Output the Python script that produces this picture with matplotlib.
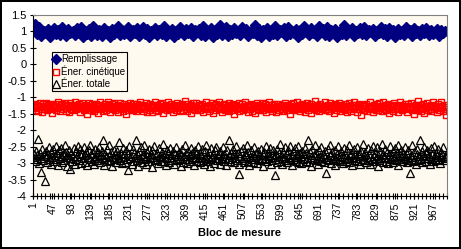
import matplotlib
matplotlib.use("Agg")
import matplotlib.pyplot as plt
import numpy as np

plt.rcParams['font.family'] = ['Liberation Sans', 'DejaVu Sans']

# Remplissage read every 5th block (1, 6, ... 996), the two energies every 2nd block (1, 3, ... 999)
blocs_5 = np.arange(1, 1000, 5)
blocs_2 = np.arange(1, 1000, 2)

remplissage = [
    1.05, 1.22, 0.93, 1.12, 0.86, 1.02, 0.95, 1.08, 0.84, 0.99, 1.10, 0.91, 1.03, 0.88, 1.14, 0.97, 0.85, 1.06, 0.94, 1.01,
    0.89, 1.09, 0.96, 1.13, 0.83, 1.00, 0.92, 1.07, 0.87, 1.15, 0.98, 0.90, 1.04, 0.86, 1.11, 0.95, 1.02, 0.84, 1.08, 0.93,
    1.00, 1.16, 0.88, 1.05, 0.91, 0.97, 1.12, 0.85, 1.03, 0.94, 1.09, 0.87, 0.99, 1.14, 0.92, 1.06, 0.84, 1.01, 0.96, 1.10,
    0.89, 1.04, 0.93, 1.17, 0.86, 1.00, 0.95, 1.08, 0.83, 1.02, 0.91, 1.13, 0.97, 0.88, 1.06, 0.94, 1.11, 0.85, 1.03, 0.99,
    1.07, 0.90, 1.15, 0.87, 1.01, 0.96, 1.09, 0.84, 1.05, 0.93, 1.18, 0.89, 0.98, 1.12, 0.86, 1.04, 0.92, 1.10, 0.95, 1.00,
    0.88, 1.14, 0.97, 1.06, 0.85, 1.02, 0.94, 1.19, 0.90, 1.08, 0.83, 1.03, 0.96, 1.11, 0.87, 1.00, 0.93, 1.16, 0.89, 1.05,
    0.98, 1.09, 0.86, 1.13, 0.92, 1.01, 0.95, 1.07, 0.84, 1.04, 0.91, 1.17, 0.97, 0.88, 1.10, 0.94, 1.02, 0.85, 1.15, 0.99,
    1.06, 0.90, 1.12, 0.87, 1.03, 0.96, 1.08, 0.83, 1.00, 0.93, 1.20, 0.89, 1.05, 0.97, 1.11, 0.86, 1.02, 0.94, 1.09, 0.91,
    1.14, 0.88, 1.04, 0.98, 1.07, 0.85, 1.01, 0.95, 1.13, 0.92, 1.06, 0.87, 1.10, 0.96, 1.03, 0.84, 1.08, 0.93, 1.00, 0.89,
    1.12, 0.97, 1.05, 0.86, 1.09, 0.94, 1.02, 0.90, 1.06, 0.95, 1.11, 0.88, 1.04, 0.92, 0.99, 1.07, 0.87, 1.03, 0.96, 1.00,
]

cinetique = [
    -1.26, -1.33, -1.21, -1.38, -1.29, -1.24, -1.42, -1.31, -1.19, -1.35, -1.27, -1.45, -1.22, -1.30, -1.36, -1.17, -1.28, -1.40, -1.25, -1.33, -1.20, -1.37, -1.30, -1.48, -1.23,
    -1.32, -1.27, -1.39, -1.21, -1.34, -1.15, -1.29, -1.43, -1.25, -1.31, -1.22, -1.36, -1.28, -1.19, -1.41, -1.26, -1.33, -1.24, -1.46, -1.30, -1.18, -1.35, -1.27, -1.39, -1.23,
    -1.30, -1.14, -1.37, -1.25, -1.32, -1.21, -1.44, -1.28, -1.34, -1.19, -1.29, -1.40, -1.23, -1.36, -1.26, -1.50, -1.31, -1.17, -1.33, -1.27, -1.38, -1.22, -1.30, -1.42, -1.25,
    -1.35, -1.20, -1.28, -1.47, -1.24, -1.32, -1.16, -1.37, -1.29, -1.41, -1.26, -1.33, -1.21, -1.39, -1.30, -1.13, -1.34, -1.25, -1.44, -1.28, -1.22, -1.36, -1.31, -1.18, -1.40,
    -1.27, -1.33, -1.23, -1.45, -1.30, -1.19, -1.36, -1.26, -1.42, -1.29, -1.21, -1.34, -1.52, -1.28, -1.24, -1.38, -1.31, -1.17, -1.35, -1.27, -1.40, -1.22, -1.32, -1.26, -1.43,
    -1.20, -1.30, -1.37, -1.25, -1.14, -1.33, -1.28, -1.41, -1.23, -1.35, -1.29, -1.18, -1.46, -1.31, -1.26, -1.38, -1.21, -1.34, -1.27, -1.44, -1.24, -1.32, -1.16, -1.39, -1.30,
    -1.25, -1.42, -1.28, -1.22, -1.36, -1.31, -1.19, -1.48, -1.27, -1.33, -1.24, -1.40, -1.29, -1.15, -1.35, -1.26, -1.37, -1.21, -1.32, -1.45, -1.28, -1.23, -1.39, -1.30, -1.18,
    -1.34, -1.27, -1.43, -1.24, -1.31, -1.20, -1.38, -1.29, -1.12, -1.36, -1.26, -1.41, -1.22, -1.33, -1.28, -1.49, -1.25, -1.35, -1.19, -1.30, -1.40, -1.27, -1.17, -1.37, -1.32,
    -1.23, -1.39, -1.28, -1.34, -1.21, -1.44, -1.30, -1.26, -1.36, -1.16, -1.32, -1.27, -1.42, -1.24, -1.35, -1.29, -1.19, -1.47, -1.31, -1.25, -1.38, -1.22, -1.33, -1.28, -1.14,
    -1.37, -1.26, -1.31, -1.45, -1.23, -1.34, -1.20, -1.40, -1.29, -1.35, -1.25, -1.18, -1.43, -1.30, -1.27, -1.38, -1.22, -1.33, -1.51, -1.28, -1.24, -1.36, -1.31, -1.17, -1.41,
    -1.29, -1.34, -1.21, -1.39, -1.26, -1.32, -1.15, -1.37, -1.28, -1.44, -1.23, -1.30, -1.35, -1.20, -1.42, -1.27, -1.33, -1.25, -1.48, -1.31, -1.19, -1.36, -1.28, -1.40, -1.24,
    -1.32, -1.18, -1.38, -1.27, -1.34, -1.22, -1.45, -1.30, -1.25, -1.37, -1.13, -1.33, -1.29, -1.41, -1.24, -1.36, -1.21, -1.31, -1.46, -1.28, -1.34, -1.20, -1.39, -1.26, -1.30,
    -1.35, -1.23, -1.42, -1.29, -1.17, -1.33, -1.27, -1.38, -1.25, -1.31, -1.50, -1.22, -1.36, -1.28, -1.19, -1.40, -1.30, -1.26, -1.34, -1.15, -1.37, -1.24, -1.43, -1.29, -1.32,
    -1.21, -1.36, -1.28, -1.44, -1.25, -1.31, -1.18, -1.39, -1.27, -1.33, -1.22, -1.47, -1.30, -1.26, -1.35, -1.12, -1.32, -1.38, -1.24, -1.29, -1.41, -1.20, -1.34, -1.27, -1.37,
    -1.26, -1.30, -1.16, -1.40, -1.28, -1.35, -1.23, -1.43, -1.31, -1.19, -1.36, -1.27, -1.33, -1.49, -1.25, -1.21, -1.38, -1.29, -1.34, -1.17, -1.42, -1.28, -1.24, -1.37, -1.30,
    -1.33, -1.22, -1.39, -1.26, -1.45, -1.31, -1.18, -1.35, -1.28, -1.41, -1.24, -1.32, -1.14, -1.37, -1.29, -1.25, -1.44, -1.30, -1.21, -1.36, -1.27, -1.53, -1.33, -1.23, -1.38,
    -1.28, -1.34, -1.20, -1.42, -1.26, -1.31, -1.37, -1.16, -1.33, -1.29, -1.46, -1.24, -1.35, -1.27, -1.40, -1.22, -1.30, -1.38, -1.19, -1.34, -1.26, -1.43, -1.31, -1.13, -1.36,
    -1.25, -1.39, -1.29, -1.33, -1.21, -1.48, -1.27, -1.35, -1.23, -1.30, -1.41, -1.18, -1.36, -1.28, -1.32, -1.45, -1.24, -1.37, -1.15, -1.31, -1.26, -1.40, -1.29, -1.34, -1.20,
    -1.37, -1.27, -1.44, -1.22, -1.33, -1.30, -1.17, -1.39, -1.26, -1.35, -1.52, -1.28, -1.23, -1.38, -1.31, -1.12, -1.34, -1.25, -1.42, -1.29, -1.36, -1.21, -1.47, -1.30, -1.27,
    -1.32, -1.19, -1.40, -1.28, -1.35, -1.24, -1.43, -1.31, -1.16, -1.37, -1.26, -1.33, -1.29, -1.46, -1.22, -1.38, -1.30, -1.14, -1.34, -1.27, -1.41, -1.25, -1.36, -1.55, -1.31,
]

totale = [
    -2.82, -2.71, -2.95, -2.64, -2.88, -2.77, -2.28, -3.01, -2.69, -3.28, -2.85, -2.58, -2.92, -2.74, -3.55, -2.80, -2.62, -2.97, -2.73, -2.51, -2.89, -3.04, -2.67, -2.83, -2.56,
    -2.94, -2.76, -2.48, -2.87, -2.70, -3.06, -2.61, -2.84, -2.79, -2.53, -2.98, -2.72, -2.90, -2.45, -2.81, -2.66, -3.09, -2.75, -2.59, -3.18, -2.86, -2.68, -2.93, -2.78, -2.55,
    -2.88, -3.02, -2.63, -2.80, -2.47, -2.91, -2.74, -2.57, -2.99, -2.69, -2.84, -2.52, -2.96, -2.77, -2.65, -3.07, -2.82, -2.60, -2.89, -2.44, -2.73, -2.95, -2.70, -2.86, -3.03,
    -2.58, -2.79, -2.92, -2.67, -2.85, -2.50, -2.97, -2.75, -2.62, -2.30, -2.88, -3.05, -2.71, -2.83, -2.56, -2.94, -2.78, -2.46, -2.90, -2.66, -3.10, -2.81, -2.59, -2.87, -2.73,
    -2.96, -2.64, -2.85, -2.77, -2.35, -2.92, -2.69, -3.01, -2.54, -2.82, -2.74, -2.98, -2.61, -2.88, -3.20, -2.72, -2.49, -2.86, -2.79, -3.04, -2.57, -2.93, -2.68, -2.83, -2.29,
    -2.90, -2.75, -3.08, -2.63, -2.84, -2.52, -2.97, -2.71, -2.80, -2.45, -2.89, -3.02, -2.66, -2.78, -2.94, -2.58, -2.86, -2.73, -3.11, -2.61, -2.83, -2.48, -2.91, -2.76, -2.69,
    -2.87, -3.00, -2.55, -2.79, -2.93, -2.67, -2.82, -2.43, -2.95, -2.74, -3.06, -2.60, -2.85, -2.70, -2.98, -2.53, -2.81, -2.77, -2.90, -2.64, -3.03, -2.72, -2.50, -2.88, -2.78,
    -2.92, -2.65, -2.84, -3.09, -2.71, -2.57, -2.96, -2.80, -2.46, -2.87, -2.74, -3.01, -2.62, -2.89, -2.76, -2.54, -2.93, -2.68, -2.83, -3.05, -2.59, -2.86, -2.72, -2.95, -2.49,
    -2.81, -2.69, -2.97, -2.75, -2.58, -2.90, -3.04, -2.63, -2.85, -2.44, -2.94, -2.78, -2.66, -2.88, -3.08, -2.55, -2.82, -2.73, -2.99, -2.61, -2.86, -2.51, -2.92, -2.77, -2.70,
    -3.02, -2.64, -2.87, -2.79, -2.52, -2.95, -2.72, -2.84, -3.07, -2.60, -2.89, -2.76, -2.31, -2.93, -2.68, -2.81, -2.56, -2.98, -2.74, -2.86, -2.47, -2.91, -2.70, -3.03, -3.32,
    -2.78, -2.62, -2.90, -2.53, -2.85, -2.97, -2.71, -2.80, -2.45, -2.94, -2.67, -3.05, -2.83, -2.59, -2.88, -2.75, -2.96, -2.50, -2.82, -2.69, -3.00, -2.63, -2.87, -2.77, -2.92,
    -2.57, -2.84, -2.73, -3.09, -2.66, -2.89, -2.48, -2.95, -2.80, -2.70, -2.86, -2.54, -3.02, -2.76, -2.91, -2.61, -2.83, -3.36, -2.74, -2.97, -2.58, -2.88, -2.68, -2.42, -2.93,
    -2.79, -3.04, -2.65, -2.85, -2.52, -2.92, -2.72, -2.98, -2.60, -2.81, -2.47, -2.90, -2.77, -3.06, -2.64, -2.87, -2.55, -2.94, -2.71, -2.83, -2.49, -2.96, -2.68, -2.80, -3.01,
    -2.62, -2.89, -2.74, -2.53, -2.93, -2.70, -2.84, -2.29, -2.97, -2.66, -2.82, -3.08, -2.58, -2.88, -2.76, -2.45, -2.91, -2.69, -2.85, -3.03, -2.61, -2.79, -2.94, -2.51, -2.86,
    -2.73, -2.96, -2.63, -2.81, -3.30, -2.88, -2.56, -2.92, -2.75, -2.44, -2.99, -2.67, -2.84, -2.78, -3.05, -2.59, -2.90, -2.71, -2.48, -2.87, -2.80, -2.95, -2.64, -2.83, -3.00,
    -2.54, -2.89, -2.72, -2.93, -2.61, -2.85, -2.46, -2.97, -2.76, -2.68, -3.07, -2.82, -2.57, -2.91, -2.74, -2.86, -2.50, -2.95, -2.70, -2.80, -3.02, -2.63, -2.88, -2.43, -2.92,
    -2.77, -2.65, -2.98, -2.83, -2.55, -2.90, -2.73, -3.04, -2.60, -2.87, -2.47, -2.94, -2.79, -2.69, -2.85, -2.52, -3.09, -2.75, -2.91, -2.62, -2.84, -2.41, -2.96, -2.72, -2.81,
    -2.58, -2.93, -2.67, -2.86, -3.01, -2.74, -2.49, -2.89, -2.78, -2.63, -2.97, -2.82, -2.54, -2.91, -2.70, -3.06, -2.45, -2.87, -2.76, -2.60, -2.94, -2.80, -2.68, -2.88, -2.51,
    -2.85, -2.97, -2.71, -2.59, -2.90, -3.31, -2.77, -2.83, -2.46, -2.93, -2.66, -2.87, -3.03, -2.73, -2.56, -2.92, -2.79, -2.30, -2.88, -2.64, -2.98, -2.75, -2.50, -2.86, -2.70,
    -2.94, -2.61, -2.84, -2.78, -3.02, -2.55, -2.89, -2.72, -2.95, -2.47, -2.81, -2.68, -2.91, -2.76, -2.58, -2.87, -2.99, -2.65, -2.83, -2.73, -2.52, -2.90, -2.79, -2.86, -2.80,
]

x_labels = np.arange(1, 1001, 46)   # 1, 47, 93, ... 967
y_ticks = np.arange(-4, 1.51, 0.5)

fig = plt.figure(figsize=(4.61, 2.49), dpi=100, facecolor="white")
fig.patch.set_edgecolor("black")
fig.patch.set_linewidth(1.5)
ax = fig.add_axes([0.0716, 0.213, 0.898, 0.727])
ax.set_facecolor("#FFFAEF")

ax.plot(blocs_5, remplissage, linestyle="none", marker="D", ms=4.8, color="#000080",
        mec="#000080", label="Remplissage")
ax.plot(blocs_2, cinetique, linestyle="none", marker="s", ms=5, mfc="none", mec="#FF0000",
        mew=1.0, label="Éner. cinétique")
ax.plot(blocs_2, totale, linestyle="none", marker="^", ms=5.5, mfc="none", mec="black",
        mew=0.9, label="Éner. totale")

ax.set_xlim(0.5, 1000.5)
ax.set_ylim(-4, 1.5)
ax.set_yticks(y_ticks)
ax.set_yticklabels(["%g" % v for v in y_ticks], fontsize=8)
ax.set_xticks(x_labels)
ax.set_xticklabels([str(v) for v in x_labels], rotation=90, fontsize=7.5)
ax.set_xticks(np.arange(0.5, 1001, 10), minor=True)
ax.tick_params(axis="x", which="both", direction="inout", length=5, width=0.8, pad=2)
ax.tick_params(axis="y", direction="inout", length=5, width=0.8, pad=2)

for side in ["top", "right"]:
    ax.spines[side].set_color("#808080")
    ax.spines[side].set_linewidth(0.8)
for side in ["left", "bottom"]:
    ax.spines[side].set_color("black")
    ax.spines[side].set_linewidth(0.8)

ax.set_xlabel("Bloc de mesure", fontsize=8, fontweight="bold", labelpad=6)

leg = ax.legend(loc="upper left", bbox_to_anchor=(0.045, 0.795), fontsize=7,
                frameon=True, fancybox=False, borderpad=0.2, labelspacing=0.2,
                handlelength=0.5, handletextpad=0.25, borderaxespad=0)
leg.get_frame().set_edgecolor("black")
leg.get_frame().set_linewidth(0.8)
leg.get_frame().set_facecolor("#FFFAEF")
leg.get_frame().set_alpha(1)

fig.savefig("out.png", dpi=100)
